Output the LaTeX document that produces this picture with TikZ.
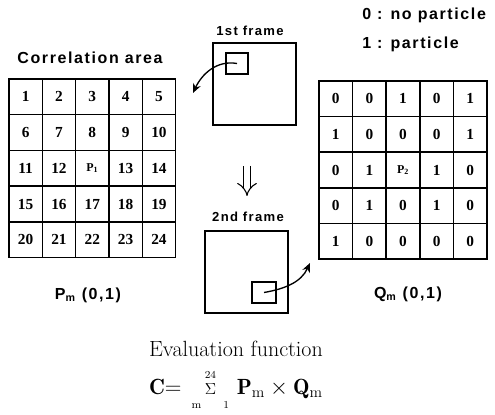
\documentclass[tikz,border=0pt]{standalone}
\usepackage{amsmath}
\usepackage{fontspec}
\usepackage{tikz}
\usetikzlibrary{arrows.meta}
\newfontfamily\labelfont[LetterSpace=10]{Liberation Sans}
\newfontfamily\cellfont{Liberation Serif}
\tikzset{
  cellbox/.style={rectangle, draw=black, line width=1.1pt, minimum width=25pt, minimum height=26.8pt, inner sep=0pt, font=\cellfont\bfseries\fontsize{11.5}{13}\selectfont},
  framebox/.style={rectangle, draw=black, line width=1.1pt, inner sep=0pt},
  bigsans/.style={font=\labelfont\bfseries\fontsize{12}{14}\selectfont, inner sep=0pt},
  smallsans/.style={font=\labelfont\bfseries\fontsize{9.8}{11}\selectfont, inner sep=0pt},
  pickarrow/.style={-{Stealth[length=7pt,width=6pt]}, line width=1pt},
  % --- formula below the grids ---
  evaltext/.style={font=\fontsize{16.5}{19}\selectfont, inner sep=0pt},
}
\begin{document}
\begin{tikzpicture}[x=0.75pt,y=0.75pt]
  \useasboundingbox (0,0) rectangle (495,414);

  % correlation area of the 1st frame
  \node[bigsans] (corr) at (90,356) {Correlation area};
  \foreach \v [count=\i from 0] in {1,2,3,4,5,6,7,8,9,10,11,12,{{\small P\textsubscript{1}}},13,14,15,16,17,18,19,20,21,22,23,24} {
    \pgfmathtruncatemacro{\row}{\i/5}
    \pgfmathtruncatemacro{\col}{mod(\i,5)}
    \node[cellbox] (p\i) at ({9+(\col+0.5)*33.33},{335-(\row+0.5)*35.73}) {\v};
  }
  \node[bigsans] (plabel) at (88,119) {P\textsubscript{m} (0,1)};

  % same area in the 2nd frame
  \node[bigsans, anchor=west] (key0) at (362,399) {0 : no particle};
  \node[bigsans, anchor=west] (key1) at (362,370) {1 : particle};
  \foreach \v [count=\i from 0] in {0,0,1,0,1,1,0,0,0,1,0,1,{{\small P\textsubscript{2}}},1,0,0,1,0,1,0,1,0,0,0,0} {
    \pgfmathtruncatemacro{\row}{\i/5}
    \pgfmathtruncatemacro{\col}{mod(\i,5)}
    \node[cellbox] (q\i) at ({319+(\col+0.5)*33.6},{333-(\row+0.5)*35.6}) {\v};
  }
  \node[bigsans] (qlabel) at (408,120) {Q\textsubscript{m} (0,1)};

  % the two frames
  \node[smallsans] (lbl1) at (250,383) {1st frame};
  \node[framebox, minimum width=62.25pt, minimum height=61.5pt] (frame1) at (254.5,330) {};
  \node[framebox, minimum width=16.5pt, minimum height=15.75pt] (win1) at (237,350.5) {};
  \coordinate (tip1) at (193,321);
  \draw[pickarrow] (win1.center) to[out=170, in=65] (tip1);

  \coordinate (darrtop) at (247,248);
  \coordinate (darrbot) at (247,218);
  \draw[-{Implies}, double, double distance=4.5pt, line width=0.8pt] (darrtop) -- (darrbot);

  \node[smallsans] (lbl2) at (248,197) {2nd frame};
  \node[framebox, minimum width=62.25pt, minimum height=61.5pt] (frame2) at (246.5,142) {};
  \node[framebox, minimum width=18pt, minimum height=15.75pt] (win2) at (264,121.5) {};
  \coordinate (tip2) at (310,151);
  \draw[pickarrow] (win2.center) to[out=10, in=245] (tip2);

  % evaluation function
  \node[evaltext] (evalname) at (236,65) {Evaluation function};
  \node[evaltext] (evalform) at (236,24) {$\mathbf{C}{=}\;\mathop{\scriptstyle\Sigma}\limits_{\scriptscriptstyle\mathrm{m}\quad1}^{\scriptscriptstyle 24}\,\mathbf{P}_{\mathrm{m}}\times\mathbf{Q}_{\mathrm{m}}$};
\end{tikzpicture}
\end{document}
